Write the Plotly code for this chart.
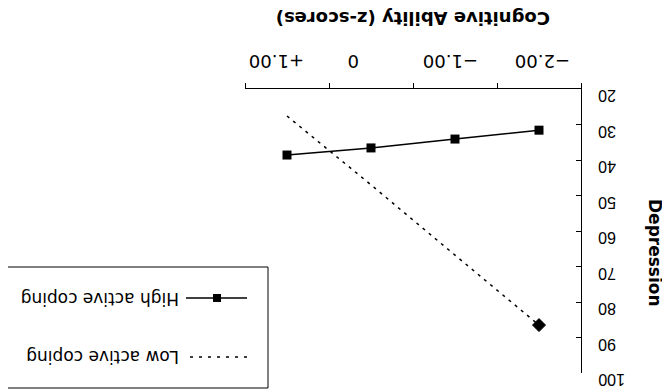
import plotly.graph_objects as go

# ---- data ----
cognitive_z = [1, 0, -1, -2]
tick_text = ["+1.00", "0", "\u22121.00", "\u22122.00"]
high_coping = [38.6, 36.6, 34.1, 31.6]
low_coping = [27.6, 47.0, 66.8, 86.5]
depression_ticks = [20, 30, 40, 50, 60, 70, 80, 90, 100]
series_names = ["High active coping", "Low active coping"]

# ---- layout (target pixel coordinates; page has an 8px body margin) ----
OFF = 8
W, H = 670 - OFF, 392 - OFF
L, R, T, B = 245, 581, 89, 373
ARIAL = "Arial, Liberation Sans, sans-serif"
DEJAVU = "DejaVu Sans, sans-serif"
x_label_shift = [-10, -17, -4, 4]

def px(x):
    return (x - L) / (R - L)

def py(y):
    return (B - y) / (B - T)

fig = go.Figure()
fig.add_trace(go.Scatter(
    x=cognitive_z, y=high_coping, mode="lines+markers", name=series_names[0],
    line=dict(color="black", width=1.5),
    marker=dict(symbol="square", size=9, color="black"),
    showlegend=False))
fig.add_trace(go.Scatter(
    x=cognitive_z, y=low_coping, mode="lines", name=series_names[1],
    line=dict(color="black", width=1.5, dash="3px,5px"),
    showlegend=False))
# only the last low-coping point carries a (diamond) marker in the original
fig.add_trace(go.Scatter(
    x=cognitive_z[-1:], y=low_coping[-1:], mode="markers", name=series_names[1],
    marker=dict(symbol="diamond", size=10, color="black",
                line=dict(width=1, color="black")),
    showlegend=False))

fig.update_layout(
    width=W, height=H,
    margin=dict(l=L - OFF, r=W - (R - OFF), t=T - OFF, b=H - (B - OFF), autoexpand=False),
    plot_bgcolor="white", paper_bgcolor="white",
    font=dict(family=ARIAL, color="black", size=16),
    xaxis=dict(
        side="top", range=[1.5, -2.5], showgrid=False, zeroline=False,
        showline=True, linecolor="black", linewidth=1,
        tickvals=cognitive_z, showticklabels=False, ticks="",
        minor=dict(tickvals=[1.5, 0.5, -0.5, -1.5, -2.5], ticks="outside",
                   ticklen=5, tickcolor="black", tickwidth=1),
    ),
    yaxis=dict(
        side="right", range=[100, 20], showgrid=False, zeroline=False,
        showline=True, linecolor="black", linewidth=1,
        tickvals=depression_ticks, showticklabels=False,
        ticks="inside", ticklen=5, tickcolor="black",
    ),
)

# x tick labels (upside down)
for v, t, s in zip(cognitive_z, tick_text, x_label_shift):
    fig.add_annotation(text=t, xref="x", yref="paper", x=v, y=py(61),
                       xshift=s, yanchor="middle", textangle=180, showarrow=False,
                       font=dict(size=18, family=DEJAVU))
# y tick labels (upside down)
for v in depression_ticks:
    fig.add_annotation(text=str(v), xref="paper", yref="y", x=px(596), y=v,
                       xanchor="left", yanchor="middle", yshift=-7, textangle=180,
                       showarrow=False, font=dict(size=16, family=ARIAL))

# axis titles (upside-down scan)
fig.add_annotation(text="<b>Cognitive Ability (z-scores)</b>", xref="paper", yref="paper",
                   x=px(413), y=py(19), xanchor="center", yanchor="middle",
                   textangle=180, showarrow=False, font=dict(size=18, family=DEJAVU))
fig.add_annotation(text="<b>Depression</b>", xref="paper", yref="paper",
                   x=px(655), y=py(253), xanchor="center", yanchor="middle",
                   textangle=90, showarrow=False, font=dict(size=17, family=DEJAVU))

# legend box
fig.add_shape(type="rect", xref="paper", yref="paper",
              x0=px(5), x1=px(268), y0=py(388), y1=py(267),
              line=dict(color="black", width=1), fillcolor="white", layer="below")
# high coping legend sample
fig.add_shape(type="line", xref="paper", yref="paper",
              x0=px(186), x1=px(247), y0=py(298), y1=py(298),
              line=dict(color="black", width=1.5))
fig.add_shape(type="rect", xref="paper", yref="paper",
              x0=px(213), x1=px(221), y0=py(302), y1=py(294),
              line=dict(color="black", width=0), fillcolor="black")
# low coping legend sample
fig.add_shape(type="line", xref="paper", yref="paper",
              x0=px(190), x1=px(247), y0=py(357), y1=py(357),
              line=dict(color="black", width=1.5, dash="3px,6px"))
fig.add_annotation(text=series_names[0], xref="paper", yref="paper",
                   x=px(181), y=py(299), xanchor="right", yanchor="middle",
                   textangle=180, showarrow=False, font=dict(size=17, family=DEJAVU))
fig.add_annotation(text=series_names[1], xref="paper", yref="paper",
                   x=px(181), y=py(357), xanchor="right", yanchor="middle",
                   textangle=180, showarrow=False, font=dict(size=17, family=DEJAVU))

fig.write_html("out.html")
